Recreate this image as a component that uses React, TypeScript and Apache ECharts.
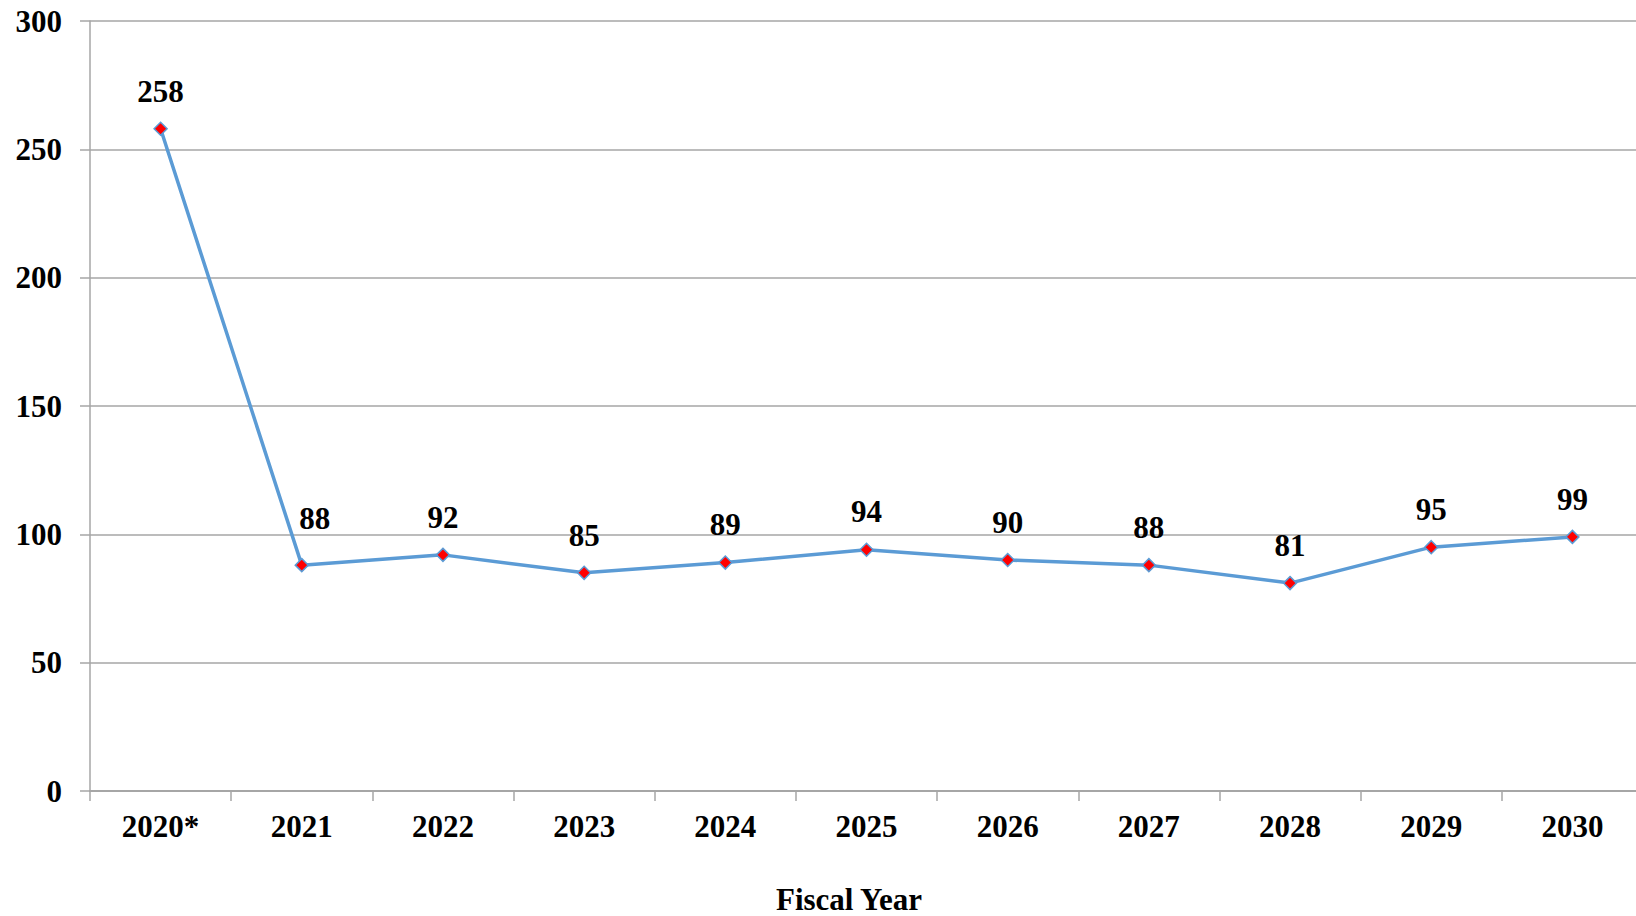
import React, { useEffect, useRef } from "react";
import * as echarts from "echarts";

const categories = ["2020*", "2021", "2022", "2023", "2024", "2025", "2026", "2027", "2028", "2029", "2030"];
const values = [258, 88, 92, 85, 89, 94, 90, 88, 81, 95, 99];
const xAxisTitle = "Fiscal Year";

const FONT = "'Liberation Serif', 'Times New Roman', serif";

export default function App() {
  const ref = useRef<HTMLDivElement>(null);
  useEffect(() => {
    const chart = echarts.init(ref.current!, null, { renderer: "svg" });
    const seriesData = values.map((v, i) =>
      i === 1 ? { value: v, label: { offset: [13, -9] } } : v
    );
    chart.setOption({
      animation: false,
      backgroundColor: "#ffffff",
      grid: { left: 90, top: 21, bottom: 125, right: 0, containLabel: false },
      xAxis: {
        type: "category",
        data: categories,
        boundaryGap: true,
        axisLine: { show: true, lineStyle: { color: "#a6a6a6", width: 2 } },
        axisTick: { show: true, length: 10, alignWithLabel: false, lineStyle: { color: "#a6a6a6", width: 1.5 } },
        axisLabel: { color: "#000", fontFamily: FONT, fontWeight: "bold", fontSize: 31, margin: 20 },
        splitLine: { show: false },
      },
      yAxis: {
        type: "value",
        min: 0,
        max: 300,
        interval: 50,
        axisLine: { show: true, lineStyle: { color: "#a6a6a6", width: 1.5 } },
        axisTick: { show: true, length: 10, lineStyle: { color: "#a6a6a6", width: 1.5 } },
        axisLabel: { color: "#000", fontFamily: FONT, fontWeight: "bold", fontSize: 31, margin: 28 },
        splitLine: { show: true, lineStyle: { color: "#a6a6a6", width: 1.5 } },
      },
      graphic: [
        {
          type: "text",
          x: 849,
          y: 899,
          style: {
            text: xAxisTitle,
            fill: "#000",
            font: `bold 31px ${FONT}`,
            textAlign: "center",
            textVerticalAlign: "middle",
          },
        },
      ],
      series: [
        {
          type: "line",
          data: seriesData,
          symbol: "diamond",
          symbolSize: 13,
          lineStyle: { color: "#5b9bd5", width: 3.5 },
          itemStyle: { color: "#ff0000", borderColor: "#5b9bd5", borderWidth: 1.5 },
          label: {
            show: true,
            position: "top",
            distance: 15,
            color: "#000",
            fontFamily: FONT,
            fontWeight: "bold",
            fontSize: 31,
          },
        },
      ],
    });
    return () => chart.dispose();
  }, []);
  return (
    <div style={{ position: "absolute", left: 0, top: 0, width: 1636, height: 916, overflow: "hidden" }}>
      <div ref={ref} style={{ width: 1643, height: 916 }} />
    </div>
  );
}
